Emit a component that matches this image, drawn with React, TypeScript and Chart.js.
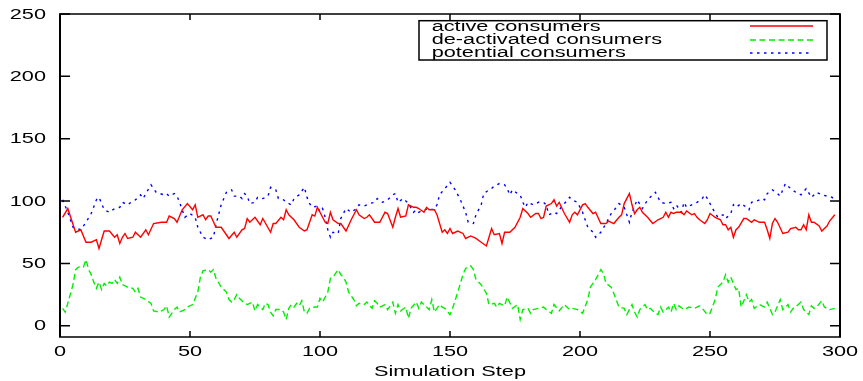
import React, { useEffect, useRef } from "react";
import { Chart, registerables } from "chart.js";

Chart.register(...registerables);

const seriesLabels = ["active consumers", "de-activated consumers", "potential consumers"];
const xAxisTitle = "Simulation Step";
const xTicks = [0, 50, 100, 150, 200, 250, 300];
const yTicks = [0, 50, 100, 150, 200, 250];

const activeSteps = [1,3,6,8,10,12,14,15,17,19,21,22,23,24,25,26,28,29,31,33,34,36,39,41,42,44,45,47,49,51,52,53,55,56,57,58,60,62,65,67,68,70,71,72,73,75,77,78,81,82,83,85,86,87,88,90,92,94,95,96,97,98,99,101,102,103,104,105,107,108,110,112,114,115,117,118,119,121,123,125,126,128,129,130,131,133,134,136,137,138,140,141,142,144,145,147,148,149,150,151,153,155,156,158,160,162,164,165,166,167,169,170,171,173,175,177,178,180,181,183,184,185,186,187,189,190,191,192,194,196,197,198,199,201,202,203,205,206,208,210,211,213,215,216,217,219,220,221,222,223,224,226,228,230,231,232,233,234,235,236,237,239,240,241,243,244,245,246,248,249,250,252,254,255,256,257,258,259,260,261,263,264,266,267,269,271,272,273,274,275,276,278,280,281,283,284,285,286,287,288,289,290,292,293,295,296,298];
const activeValues = [87,94,75,77,67,67,69,62,76,76,71,73,66,71,74,70,71,75,71,77,73,82,83,83,88,86,83,93,98,93,97,87,89,85,88,88,79,79,70,75,71,77,78,86,83,87,81,86,75,82,82,87,85,93,89,85,79,76,77,83,89,88,95,87,83,82,91,85,82,82,76,85,93,89,86,87,89,83,83,91,90,79,87,94,87,88,97,95,95,94,91,95,93,93,89,75,77,74,78,74,76,74,70,72,70,67,64,71,78,73,74,66,75,75,79,87,94,90,87,90,90,86,87,96,98,101,96,99,90,83,89,91,89,97,98,95,90,91,82,82,84,82,87,89,98,106,97,90,93,95,91,87,82,85,86,87,91,87,91,90,91,91,89,92,89,90,87,85,82,85,90,87,85,81,81,77,79,71,77,79,86,86,83,85,83,83,77,70,82,86,83,74,75,78,79,77,77,81,77,89,83,83,80,76,80,84,89];

const deactivatedSteps = [1,2,3,5,6,7,8,9,10,11,12,13,14,15,16,17,18,19,20,21,22,23,24,26,28,29,30,31,33,35,36,38,40,41,42,44,45,46,47,48,49,51,53,54,55,57,58,59,60,62,63,64,65,66,67,68,69,71,72,74,75,76,78,79,80,81,82,83,85,86,87,88,89,90,91,92,93,94,95,96,98,99,100,101,103,104,105,106,107,108,109,110,111,113,114,115,117,118,120,121,122,123,125,126,128,129,130,131,133,134,135,137,138,139,140,142,143,144,146,147,148,150,151,153,155,156,158,159,160,162,164,165,167,168,169,171,172,174,176,177,178,180,181,182,184,186,187,189,190,192,194,196,197,199,201,203,204,206,208,209,210,212,213,215,217,218,220,221,222,223,225,226,227,229,230,231,232,234,235,236,237,238,240,242,244,246,247,249,250,252,253,255,256,257,258,260,261,262,264,265,266,267,269,271,272,274,275,277,278,280,281,282,284,285,286,288,289,290,291,293,294,296,298];
const deactivatedValues = [14,11,18,33,45,47,47,47,53,45,41,35,30,35,29,34,32,35,34,37,34,39,33,31,30,27,30,23,21,18,12,11,13,16,7,13,15,11,12,13,15,17,27,39,44,45,43,45,38,31,29,27,21,19,21,25,22,18,17,19,12,17,13,18,17,11,8,13,13,11,5,14,17,15,18,16,20,11,10,14,15,15,22,19,27,38,39,42,45,41,39,35,27,21,16,18,17,19,14,20,18,15,17,13,19,10,17,12,15,6,14,19,14,19,17,13,21,11,17,15,14,9,14,27,41,46,48,45,37,33,26,17,18,15,18,16,23,14,17,5,13,14,10,13,14,15,13,10,17,12,17,13,14,13,10,21,31,37,45,42,34,31,26,15,14,9,17,11,7,13,17,13,14,10,9,15,11,15,11,18,13,16,13,15,14,16,14,9,10,21,31,35,41,35,39,29,30,15,25,19,21,14,17,15,19,9,11,21,13,17,11,14,17,19,13,9,16,14,15,20,15,13,14];

const potentialSteps = [1,3,5,8,10,12,14,15,17,19,21,23,24,26,28,29,31,32,33,35,37,40,41,42,44,45,46,48,50,52,53,55,57,59,60,62,64,66,67,69,70,71,72,73,75,76,78,80,81,83,84,86,87,89,90,92,94,95,96,97,99,100,101,102,103,104,105,107,108,110,112,114,115,117,119,121,122,124,126,128,129,130,132,134,136,137,138,140,142,144,145,146,148,150,152,154,156,157,159,160,162,163,165,166,167,169,171,172,173,174,176,177,178,179,180,182,184,186,187,188,190,191,192,194,196,197,199,201,203,205,206,208,210,212,214,215,217,219,220,222,224,226,228,229,231,233,235,236,237,239,240,241,243,245,247,248,249,251,253,255,256,258,259,260,262,264,265,266,268,270,271,272,274,276,277,279,281,283,285,287,289,291,293,295,297,298];
const potentialValues = [101,91,79,77,83,90,101,103,93,91,94,95,99,97,100,101,105,102,106,113,107,105,106,104,106,104,99,87,90,87,79,71,69,71,81,97,107,109,104,104,102,106,104,98,99,103,102,104,111,109,102,101,99,97,102,105,111,103,98,95,96,91,94,87,77,71,75,74,86,94,91,94,97,96,98,99,102,99,101,105,106,99,102,98,91,93,91,93,94,93,97,105,110,115,109,101,91,83,82,89,97,106,109,110,112,114,113,110,105,109,106,105,99,95,99,97,99,99,97,89,91,90,93,98,103,101,99,91,79,75,71,75,82,90,95,98,95,83,91,101,94,101,105,107,99,98,99,94,97,91,99,95,97,99,102,105,102,94,87,89,86,90,97,95,98,95,93,99,100,102,101,106,109,106,104,114,110,107,105,110,103,107,105,104,103,99];

const STRETCH = 1.55;
const FONT = "14px 'Liberation Sans', Arial, sans-serif";

function drawText(ctx: CanvasRenderingContext2D, text: string, x: number, y: number, align: CanvasTextAlign, baseline: CanvasTextBaseline) {
  ctx.save();
  ctx.translate(x, y);
  ctx.scale(STRETCH, 1);
  ctx.font = FONT;
  ctx.fillStyle = "#000";
  ctx.textAlign = align;
  ctx.textBaseline = baseline;
  ctx.fillText(text, 0, 0);
  ctx.restore();
}

const gnuplotFrame = {
  id: "gnuplotFrame",
  afterDraw(chart: any) {
    const ctx: CanvasRenderingContext2D = chart.ctx;
    const { left, right, top, bottom } = chart.chartArea;
    const xs = chart.scales.x;
    const ys = chart.scales.y;
    ctx.save();
    ctx.strokeStyle = "#000";
    ctx.lineWidth = 2;
    ctx.beginPath();
    ctx.moveTo(left, top); ctx.lineTo(left, bottom);
    ctx.moveTo(right, top); ctx.lineTo(right, bottom);
    ctx.stroke();
    ctx.lineWidth = 1.5;
    ctx.beginPath();
    ctx.moveTo(left - 1, top); ctx.lineTo(right + 1, top);
    ctx.moveTo(left - 1, bottom); ctx.lineTo(right + 1, bottom);
    ctx.stroke();
    ctx.lineWidth = 1.5;
    ctx.beginPath();
    yTicks.forEach((v) => {
      const py = ys.getPixelForValue(v);
      ctx.moveTo(left, py); ctx.lineTo(left + 10, py);
      ctx.moveTo(right, py); ctx.lineTo(right - 10, py);
    });
    xTicks.forEach((v) => {
      const px = xs.getPixelForValue(v);
      ctx.moveTo(px, bottom); ctx.lineTo(px, bottom - 6);
      ctx.moveTo(px, top); ctx.lineTo(px, top + 6);
    });
    ctx.stroke();
    ctx.restore();

    yTicks.forEach((v) => {
      drawText(ctx, String(v), left - 14, ys.getPixelForValue(v) + 0.7, "right", "middle");
    });
    xTicks.forEach((v) => {
      drawText(ctx, String(v), xs.getPixelForValue(v), bottom + 15, "center", "middle");
    });
    drawText(ctx, xAxisTitle, (left + right) / 2, bottom + 39, "center", "alphabetic");

    const bx1 = right - 421;
    const bx2 = right - 13;
    const by1 = top + 6.7;
    const by2 = top + 46;
    ctx.save();
    ctx.fillStyle = "#fff";
    ctx.fillRect(bx1, by1, bx2 - bx1, by2 - by1);
    ctx.strokeStyle = "#000";
    ctx.lineWidth = 1.5;
    ctx.strokeRect(bx1, by1, bx2 - bx1, by2 - by1);
    ctx.restore();
    chart.data.datasets.forEach((ds: any, i: number) => {
      const base = by1 + 10 + i * 13.3;
      drawText(ctx, ds.label, bx1 + 12.7, base, "left", "alphabetic");
      ctx.save();
      ctx.strokeStyle = ds.borderColor;
      ctx.lineWidth = 1.5;
      ctx.setLineDash(ds.borderDash || []);
      const ly = Math.round(base - 4.5);
      ctx.beginPath();
      ctx.moveTo(right - 90, ly);
      ctx.lineTo(right - 27, ly);
      ctx.stroke();
      ctx.restore();
    });
  },
};

function toPoints(steps: number[], values: number[]) {
  return steps.map((s, i) => ({ x: s, y: values[i] }));
}

export default function App() {
  const ref = useRef<HTMLCanvasElement>(null);
  useEffect(() => {
    document.body.style.margin = "0";
    const chart = new Chart(ref.current as HTMLCanvasElement, {
      type: "line",
      data: {
        datasets: [
          {
            label: seriesLabels[0],
            data: toPoints(activeSteps, activeValues),
            borderColor: "#ff0000",
            borderWidth: 1.4,
            pointRadius: 0,
            tension: 0,
          },
          {
            label: seriesLabels[1],
            data: toPoints(deactivatedSteps, deactivatedValues),
            borderColor: "#00ee00",
            borderWidth: 1.4,
            borderDash: [6, 3.5],
            pointRadius: 0,
            tension: 0,
          },
          {
            label: seriesLabels[2],
            data: toPoints(potentialSteps, potentialValues),
            borderColor: "#0000ff",
            borderWidth: 1.4,
            borderDash: [2.5, 4.5],
            pointRadius: 0,
            tension: 0,
          },
        ],
      },
      options: {
        responsive: false,
        animation: false,
        layout: { padding: { left: 60, right: 23, top: 14, bottom: 44 } },
        plugins: { legend: { display: false }, tooltip: { enabled: false } },
        scales: {
          x: { type: "linear", min: 0, max: 300, display: false },
          y: { type: "linear", min: -9, max: 250, display: false },
        },
      },
      plugins: [gnuplotFrame],
    });
    return () => chart.destroy();
  }, []);
  return <canvas ref={ref} width={863} height={381} style={{ display: "block" }} />;
}
